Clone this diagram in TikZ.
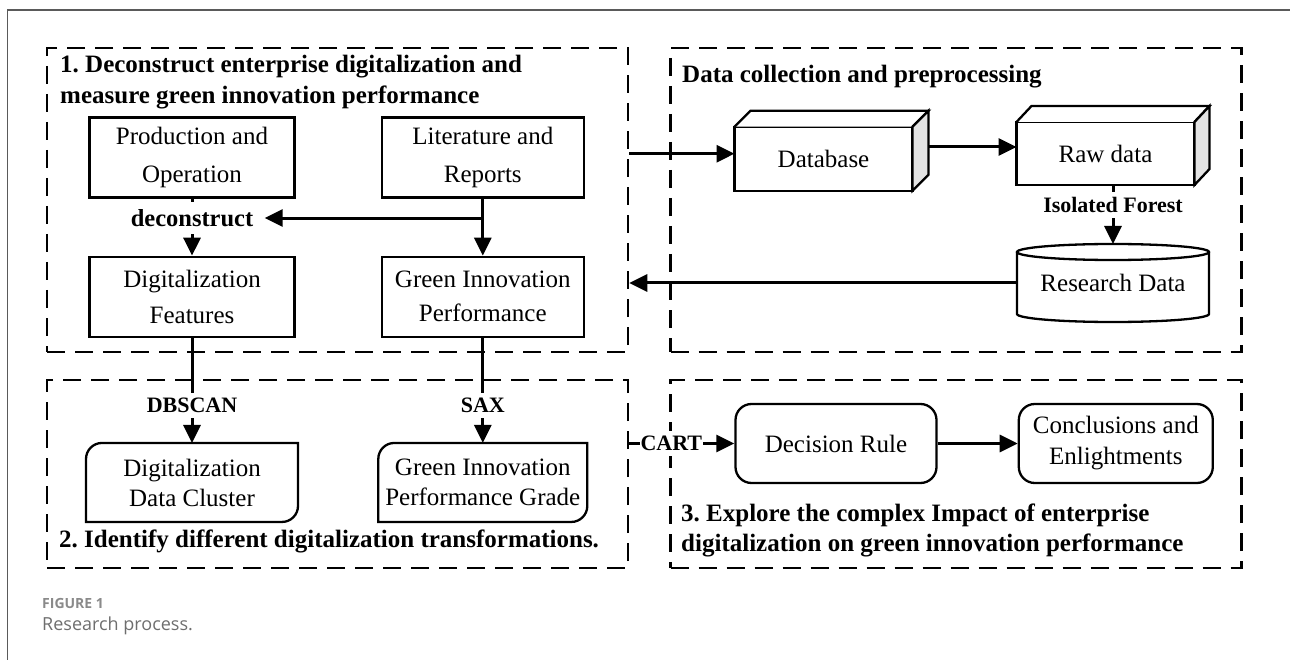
\documentclass[tikz,border=0pt]{standalone}
\usepackage{fontspec}
\setmainfont{Liberation Serif}
\newfontfamily\capfont{Open Sans}
\usepackage{tikz}
\usetikzlibrary{arrows.meta,positioning,calc}
\definecolor{frameline}{HTML}{5A5A5A}
\definecolor{sideface}{HTML}{E4E4E4}
\definecolor{capgray}{HTML}{8A8A8A}
\definecolor{captext}{HTML}{6E6E6E}
\frenchspacing

\begin{document}
\begin{tikzpicture}[
  x=1pt, y=-1pt,
  panel/.style={draw, line width=2.5pt, dash pattern=on 18pt off 10pt, minimum width=581pt},
  box/.style={draw, line width=2.3pt, minimum width=205pt, minimum height=80pt, align=center,
              font=\fontsize{25}{38}\selectfont},
  card/.style={minimum width=212pt, minimum height=79pt, outer sep=0pt, align=center,
               font=\fontsize{25}{30}\selectfont},
  rbox/.style={draw, line width=2.3pt, rounded corners=16pt, minimum height=79pt, align=center,
               font=\fontsize{25}{31}\selectfont},
  crate/.style={draw, line width=2.3pt, minimum width=178pt, minimum height=64pt, outer sep=0pt,
                font=\fontsize{25}{30}\selectfont},
  title/.style={anchor=west, align=left, inner sep=0pt, font=\bfseries\fontsize{25}{31}\selectfont},
  lbl/.style={fill=white, inner sep=3pt, inner ysep=5pt, font=\bfseries\fontsize{22}{26}\selectfont},
  arr/.style={-{Triangle[length=18pt,width=17pt]}, line width=3pt},
  edge2/.style={line width=2.3pt}
]
  \useasboundingbox (0,0) rectangle (1290,660);
  \draw[frameline, line width=1.4pt] (1290,10) -- (7.5,10) -- (7.5,660);

  % four dashed stages
  \node[panel, minimum height=304pt] (p1) at (337.5,200) {};
  \node[panel, minimum width=571pt, minimum height=304pt] (pdata) at (956,200) {};
  \node[panel, minimum height=188pt] (p2) at (337.5,474) {};
  \node[panel, minimum width=571pt, minimum height=188pt] (p3) at (956,474) {};

  \node[title] (t1) at (60,82.5) {1. Deconstruct enterprise digitalization and\\measure green innovation performance};
  \node[title] (tdata) at (682,77) {Data collection and preprocessing};
  \node[title] (t2) at (59,541.7) {2. Identify different digitalization transformations.};
  \node[title, font=\bfseries\fontsize{25}{30}\selectfont] (t3) at (681,530) {3. Explore the complex Impact of enterprise\\digitalization on green innovation performance};

  % stage 1
  \node[box] (prod) at (192,157.5) {Production and\\Operation};
  \node[box, minimum width=202pt, right=85pt of prod] (lit) {Literature and\\Reports};
  \node[box, below=57pt of prod, font=\fontsize{25}{36}\selectfont] (digf) {Digitalization\\Features};
  \node[box, minimum width=202pt, right=85pt of digf, font=\fontsize{25}{34}\selectfont] (gip) {Green Innovation\\Performance};

  \draw[arr] (prod) -- node[lbl, pos=0.34, inner xsep=10pt, inner ysep=7pt,
    font=\bfseries\fontsize{24.5}{28}\selectfont] (dcut) {deconstruct} (digf);
  \draw[arr] (lit.south |- dcut) -- (dcut.east);
  \draw[arr] (lit) -- (gip);

  % stage 2
  \node[card, below=105pt of digf] (dcl) {Digitalization\\Data Cluster};
  \node[card, minimum width=209pt, below=105pt of gip] (gpg) {Green Innovation\\Performance Grade};
  \foreach \n in {dcl,gpg}
    \draw[edge2] (\n.west) [rounded corners=16pt] -- (\n.north west) [sharp corners] -- (\n.north east)
      [rounded corners=16pt] -- (\n.south east) [sharp corners] -- (\n.south west) -- cycle;

  \draw[arr] (digf) -- node[lbl, pos=0.64] (dbscan) {DBSCAN} (dcl);
  \draw[arr] (gip) -- node[lbl, pos=0.64] (sax) {SAX} (gpg);

  % data collection
  \node[crate] (db) at (823.5,158.7) {Database};
  \node[crate, minimum height=63pt] (raw) at (1105.5,153.5) {Raw data};
  \foreach \n/\d in {db/16,raw/15} {
    \draw[edge2, fill=white] (\n.north west) -- ++(\d,-16) -- ($(\n.north east)+(\d,-16)$) -- (\n.north east);
    \draw[edge2, fill=sideface] (\n.north east) -- ++(\d,-16) -- ($(\n.south east)+(\d,-16)$) -- (\n.south east) -- cycle;
  }
  \node[minimum width=192pt, minimum height=78pt, outer sep=0pt, font=\fontsize{25}{30}\selectfont]
    (rsd) at (1113,283) {Research Data};
  \draw[edge2] ([yshift=-8pt]rsd.north west) -- ([yshift=8pt]rsd.south west)
    arc[start angle=180, end angle=360, x radius=96pt, y radius=8pt] -- ([yshift=-8pt]rsd.north east);
  \draw[edge2] ([yshift=-8pt]rsd.north) ellipse [x radius=96pt, y radius=8pt];

  \coordinate (dbin) at ([yshift=5pt]db.west);
  \coordinate (rawin) at ([yshift=6.5pt]raw.west);
  \draw[arr] (p1.east |- dbin) -- (dbin);
  \draw[arr] ([xshift=16pt]db.east |- rawin) -- (rawin);
  \draw[arr] ([xshift=7.5pt]raw.south) -- node[lbl, pos=0.34] (iforest) {Isolated Forest} (rsd.north);
  \draw[arr] (rsd.west) -- (p1.east |- rsd.west);

  % stage 3
  \node[rbox, minimum width=201pt] (rule) at (836,443.5) {Decision Rule};
  \node[rbox, minimum width=194pt, right=80pt of rule] (concl) {Conclusions and\\Enlightments};
  \draw[arr] (p2.east |- rule) -- node[lbl, pos=0.40, inner xsep=1pt] (cart) {CART} (rule);
  \draw[arr] (rule) -- (concl);

  \node[anchor=west, inner sep=0pt, text=capgray, font=\capfont\bfseries\fontsize{14}{16}\selectfont]
    (fig) at (42,603) {FIGURE 1};
  \node[anchor=west, inner sep=0pt, text=captext, font=\capfont\fontsize{18}{20}\selectfont]
    (cap) at (42,626) {Research process.};
\end{tikzpicture}
\end{document}
